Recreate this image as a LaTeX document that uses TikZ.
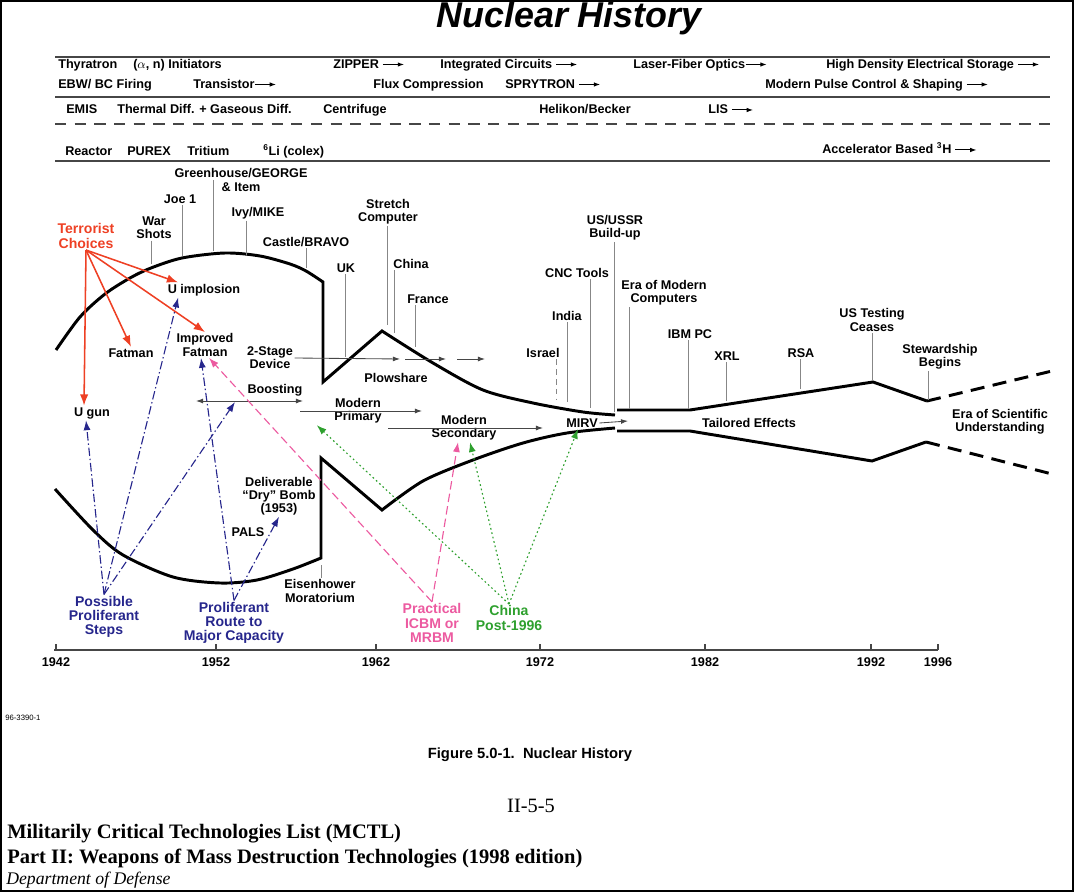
\documentclass[tikz,border=0pt]{standalone}
\usepackage{fontspec}
\setmainfont{Liberation Sans}
\newfontfamily\timesfont{Liberation Serif}
\usetikzlibrary{arrows.meta}
\definecolor{terrorred}{RGB}{238,64,36}
\definecolor{stepnavy}{RGB}{38,38,140}
\definecolor{icbmpink}{RGB}{236,90,160}
\definecolor{chinagreen}{RGB}{46,160,46}
\definecolor{tickgray}{RGB}{135,135,135}
\definecolor{rulegray}{RGB}{70,70,70}
\newcommand{\tarr}{\tikz[baseline=-0.6ex]\draw[-{Latex[length=4.5pt,width=3.2pt]},line width=0.7pt] (0pt,0pt) -- (15pt,0pt);}

\begin{document}
\begin{tikzpicture}[x=0.25mm, y=-0.25mm,
    lab/.style={font=\bfseries\fontsize{9}{9.4}\selectfont, align=center, inner sep=1pt},
    clab/.style={font=\bfseries\fontsize{10}{10.2}\selectfont, align=center, inner sep=1pt},
    band/.style={font=\bfseries\fontsize{9}{10}\selectfont, anchor=base west, inner sep=0pt},
    yearlab/.style={font=\bfseries\fontsize{9}{10}\selectfont, inner sep=1pt},
    rule/.style={rulegray, line width=0.9pt},
    hist/.style={line width=2.1pt},
    histdash/.style={hist, dash pattern=on 10pt off 6pt},
    tickline/.style={tickgray, line width=0.6pt},
    tickdash/.style={tickline, dash pattern=on 4pt off 3pt},
    thinarr/.style={rulegray, line width=0.6pt, -{Latex[length=5pt,width=3.5pt]}},
    thinboth/.style={thinarr, {Latex[length=5pt,width=3.5pt]}-{Latex[length=5pt,width=3.5pt]}},
    choicearr/.style={terrorred, line width=1.1pt, -{Latex[length=8pt,width=6pt]}},
    steparr/.style={stepnavy, line width=0.8pt, dash pattern=on 6pt off 2pt on 1pt off 2pt, -{Latex[length=7pt,width=5pt]}},
    icbmarr/.style={icbmpink, line width=0.8pt, dash pattern=on 6pt off 3pt, -{Latex[length=7pt,width=5pt]}},
    chinaarr/.style={chinagreen, line width=0.8pt, dash pattern=on 1.2pt off 2pt, -{Latex[length=7pt,width=5pt]}}
  ]
  \useasboundingbox (0,0) rectangle (1074,892);
  \draw[line width=0.6mm] (1,1) rectangle (1073,891);

  \node[font=\bfseries\itshape\fontsize{25.5}{28}\selectfont, anchor=base, inner sep=0pt] (title) at (569,28) {Nuclear History};

  \draw[rule] (55,57) -- (1050,57);
  \draw[rule] (55,97) -- (1050,97);
  \draw[rule, dash pattern=on 8pt off 6pt] (55,124) -- (1050,124);
  \draw[rule] (55,161) -- (1050,161);

  \node[band] (thyr) at (58,68.5) {Thyratron};
  \node[band] (alpha) at (133,68.5) {($\alpha$, n) Initiators};
  \node[band] (zipper) at (333,68.5) {ZIPPER \tarr};
  \node[band] (intc) at (440,68.5) {Integrated Circuits \tarr};
  \node[band] (laser) at (633,68.5) {Laser-Fiber Optics\tarr};
  \node[band] (hdes) at (826,68.5) {High Density Electrical Storage \tarr};
  \node[band] (ebw) at (58,88.5) {EBW/ BC Firing};
  \node[band] (trans) at (193,88.5) {Transistor\tarr};
  \node[band] (flux) at (373,88.5) {Flux Compression};
  \node[band] (spry) at (505,88.5) {SPRYTRON \tarr};
  \node[band] (mpcs) at (765,88.5) {Modern Pulse Control \& Shaping \tarr};
  \node[band] (emis) at (66,114) {EMIS};
  \node[band] (therm) at (117,114) {Thermal Diff. + Gaseous Diff.};
  \node[band] (centr) at (323,114) {Centrifuge};
  \node[band] (heli) at (539,114) {Helikon/Becker};
  \node[band] (lis) at (708,114) {LIS \tarr};
  \node[band] (react) at (65,155.5) {Reactor};
  \node[band] (purex) at (127,155.5) {PUREX};
  \node[band] (trit) at (187,155.5) {Tritium};
  \node[band] (lith) at (263,155.5) {\textsuperscript{6}Li (colex)};
  \node[band] (accel) at (822,154) {Accelerator Based \textsuperscript{3}H \tarr};

  \draw[hist] plot[smooth] coordinates {(56,350) (80,317) (105,294) (130,278) (151,268) (182,258) (225,253) (260,256) (290,264) (306,271) (323,282)}
    -- (323,382) -- (382,331)
    -- plot[smooth] coordinates {(382,331) (433,363) (483,390) (533,403) (583,412) (615,415)};
  \draw[hist] plot[smooth] coordinates {(55,489) (93,530) (123,555) (173,577) (220,583) (257,580) (293,569) (321,558)}
    -- (321,458) -- (382,510)
    -- plot[smooth] coordinates {(382,510) (423,481) (473,460) (523,443) (567,433) (615,428)};
  \draw[hist] (617,410) -- (690,410) -- (873,382) -- (927,401);
  \draw[histdash] (927,401) -- (1052,371);
  \draw[hist] (617,431) -- (690,431) -- (872,461) -- (926,442);
  \draw[histdash] (926,442) -- (1052,474);

  \node[lab] (ws) at (154,228) {War\\Shots};
  \node[lab] (joe) at (180,199) {Joe 1};
  \node[lab] (gh) at (241,180) {Greenhouse/GEORGE\\\& Item};
  \node[lab] (ivy) at (258,213) {Ivy/MIKE};
  \node[lab] (castle) at (306,242) {Castle/BRAVO};
  \node[lab] (uk) at (346,268) {UK};
  \node[lab] (stretch) at (388,212) {Stretch\\Computer};
  \node[lab] (china) at (411,264) {China};
  \node[lab] (france) at (428,299) {France};
  \node[lab] (israel) at (543,353) {Israel};
  \node[lab] (india) at (567,316) {India};
  \node[lab] (cnc) at (577,273) {CNC Tools};
  \node[lab] (ussr) at (615,228) {US/USSR\\Build-up};
  \node[lab] (era) at (664,293) {Era of Modern\\Computers};
  \node[lab] (ibm) at (690,334) {IBM PC};
  \node[lab] (xrl) at (727,356) {XRL};
  \node[lab] (rsa) at (801,353) {RSA};
  \node[lab] (ustest) at (872,320) {US Testing\\Ceases};
  \node[lab] (stew) at (940,357) {Stewardship\\Begins};
  \node[lab] (sci) at (1000,422) {Era of Scientific\\Understanding};
  \node[lab] (tailored) at (749,423) {Tailored Effects};
  \node[lab] (plow) at (396,378) {Plowshare};
  \node[lab] (mirv) at (582,423) {MIRV};
  \node[lab] (eisen) at (320,591) {Eisenhower\\Moratorium};
  \node[lab] (dry) at (279,496) {Deliverable\\``Dry'' Bomb\\(1953)};
  \node[lab] (pals) at (248,532) {PALS};
  \node[lab] (twostage) at (270,358) {2-Stage\\Device};
  \node[lab] (boost) at (275,390) {Boosting};
  \node[lab] (mprim) at (358,411) {Modern\\Primary};
  \node[lab] (msec) at (464,428) {Modern\\Secondary};
  \node[lab] (uimp) at (204,290) {U implosion};
  \node[lab] (fatman) at (131,353) {Fatman};
  \node[lab] (ifat) at (205,345) {Improved\\Fatman};
  \node[lab] (ugun) at (92,413) {U gun};

  \node[clab, terrorred] (terror) at (86,236) {Terrorist\\Choices};
  \node[clab, stepnavy] (steps) at (104,617) {Possible\\Proliferant\\Steps};
  \node[clab, stepnavy] (route) at (234,623) {Proliferant\\Route to\\Major Capacity};
  \node[clab, icbmpink] (icbm) at (432,623) {Practical\\ICBM or\\MRBM};
  \node[clab, chinagreen] (chpost) at (509,618) {China\\Post-1996};

  \coordinate (ws-t) at (151,264);
  \coordinate (joe-t) at (182,256);
  \coordinate (gh-t) at (213,251);
  \coordinate (ivy-t) at (246,255);
  \coordinate (castle-t) at (306,268);
  \coordinate (uk-t) at (345,357);
  \coordinate (stretch-t) at (387,325);
  \coordinate (china-t) at (394,333);
  \coordinate (france-t) at (415,347);
  \coordinate (israel-t) at (556,400);
  \coordinate (india-t) at (567,402);
  \coordinate (cnc-t) at (590,408);
  \coordinate (ussr-t) at (614,412);
  \coordinate (era-t) at (629,409);
  \coordinate (ibm-t) at (688,409);
  \coordinate (xrl-t) at (726,401);
  \coordinate (rsa-t) at (800,389);
  \coordinate (ustest-t) at (872,381);
  \coordinate (stew-t) at (928,400);
  \coordinate (eisen-t) at (321,565);

  \draw[tickline] (ws-t |- ws.south) -- (ws-t);
  \draw[tickline] (joe-t |- joe.south) -- (joe-t);
  \draw[tickline] (gh-t |- gh.center) -- (gh-t);
  \draw[tickline] (ivy-t |- ivy.south) -- (ivy-t);
  \draw[tickline] (castle-t |- castle.south) -- (castle-t);
  \draw[tickline] (uk-t |- uk.south) -- (uk-t);
  \draw[tickline] (stretch-t |- stretch.south) -- (stretch-t);
  \draw[tickline] (china-t |- china.south) -- (china-t);
  \draw[tickline] (france-t |- france.south) -- (france-t);
  \draw[tickdash] (israel-t |- israel.south) -- (israel-t);
  \draw[tickline] (india-t |- india.south) -- (india-t);
  \draw[tickline] (cnc-t |- cnc.south) -- (cnc-t);
  \draw[tickline] (ussr-t |- ussr.south) -- (ussr-t);
  \draw[tickline] (era-t |- era.south) -- (era-t);
  \draw[tickline] (ibm-t |- ibm.south) -- (ibm-t);
  \draw[tickline] (xrl-t |- xrl.south) -- (xrl-t);
  \draw[tickline] (rsa-t |- rsa.south) -- (rsa-t);
  \draw[tickline] (ustest-t |- ustest.south) -- (ustest-t);
  \draw[tickline] (stew-t |- stew.south) -- (stew-t);
  \draw[tickline] (eisen-t) -- (eisen-t |- eisen.north);

  \coordinate (tsa) at (400,359);
  \coordinate (tsb) at (405,359);
  \coordinate (tsc) at (446,359);
  \coordinate (tsd) at (457,359);
  \coordinate (tse) at (485,359);
  \coordinate (boostl) at (196,401);
  \coordinate (boostr) at (303,401);
  \coordinate (boostpt) at (235,402);
  \coordinate (mpl) at (300,411);
  \coordinate (mpr) at (422,411);
  \coordinate (msl) at (388,428);
  \coordinate (msr) at (543,428);
  \coordinate (mirvr) at (628,421);

  \draw[thinarr] (twostage.east) -- (tsa);
  \draw[thinarr] (tsb) -- (tsc);
  \draw[thinarr] (tsd) -- (tse);
  \draw[thinboth] (boostl) -- (boostr);
  \draw[thinarr] (mpl) -- (mpr);
  \draw[thinarr] (msl) -- (msr);
  \draw[thinarr] (mirv.east) -- (mirvr);

  \draw[choicearr] (terror.south) -- ([xshift=-2mm]ugun.north);
  \draw[choicearr] (terror.south) -- (fatman.north);
  \draw[choicearr] (terror.south) -- (ifat.north);
  \draw[choicearr] (terror.south) -- ([xshift=3mm]uimp.north west);

  \draw[steparr] (steps.north) -- ([xshift=-1.5mm]ugun.south);
  \draw[steparr] (steps.north) -- ([xshift=3mm]uimp.south west);
  \draw[steparr] (steps.north) -- (boostpt);
  \draw[steparr] (route.north) -- ([xshift=-1mm]ifat.south);
  \draw[steparr] (route.north) -- (dry.south);

  \draw[icbmarr] (icbm.north) -- ([xshift=1mm]ifat.south);
  \draw[icbmarr] (icbm.north) -- ([xshift=-1.5mm]msec.south);

  \draw[chinaarr] (chpost.north) -- ([xshift=-4mm]mprim.south west);
  \draw[chinaarr] (chpost.north) -- ([xshift=1.5mm]msec.south);
  \draw[chinaarr] (chpost.north) -- ([xshift=-1mm]mirv.south);

  \draw[rule] (54,650) -- (938,650);
  \foreach \x/\yr in {56/1942, 216/1952, 376/1962, 540/1972, 705/1982, 871/1992, 938/1996} {
    \draw[rule] (\x,650) -- (\x,644);
    \node[yearlab] (y\yr) at (\x,662) {\yr};
  }

  \node[font=\fontsize{5.5}{6}\selectfont, anchor=west, inner sep=0pt] (docid) at (5,718) {96-3390-1};
  \node[font=\bfseries\fontsize{10.5}{12}\selectfont] (figcap) at (530,755) {Figure 5.0-1.\ \ Nuclear History};
  \node[font=\timesfont\fontsize{14.5}{16}\selectfont] (pagenum) at (531,806) {II-5-5};
  \node[font=\timesfont\bfseries\fontsize{14.6}{16}\selectfont, anchor=base west, inner sep=0pt] (mctl) at (7,838) {Militarily Critical Technologies List (MCTL)};
  \node[font=\timesfont\bfseries\fontsize{14.6}{16}\selectfont, anchor=base west, inner sep=0pt] (part) at (7,863) {Part II: Weapons of Mass Destruction Technologies (1998 edition)};
  \node[font=\timesfont\itshape\fontsize{12.6}{14}\selectfont, anchor=base west, inner sep=0pt] (dod) at (6,884) {Department of Defense};
\end{tikzpicture}
\end{document}
